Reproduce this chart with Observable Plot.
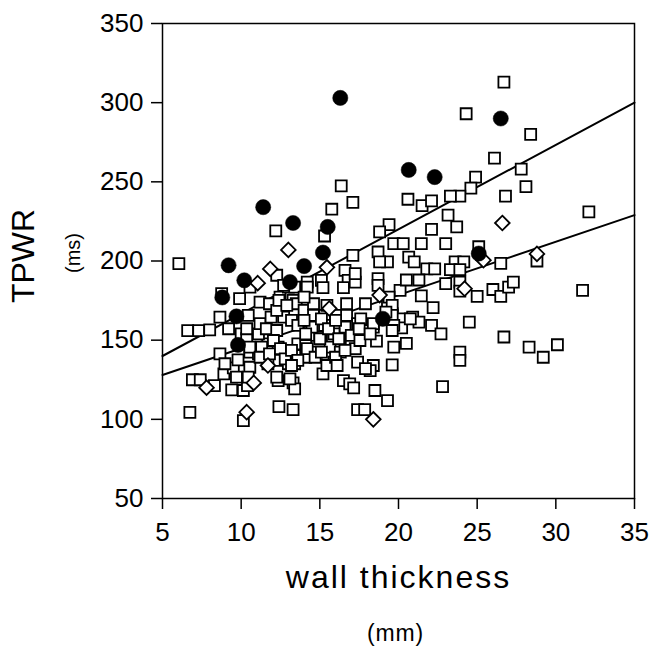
<!DOCTYPE html>
<html><head><meta charset="utf-8">
<script src="https://cdn.jsdelivr.net/npm/d3@7"></script>
<script src="https://cdn.jsdelivr.net/npm/@observablehq/plot@0.6"></script>
<style>body{margin:0;background:#fff}</style>
</head><body><div id="chart"></div>
<script>
// tick labels
const xTicks = [5, 10, 15, 20, 25, 30, 35];
const yTicks = [50, 100, 150, 200, 250, 300, 350];

// open squares: wall thickness (mm), TPWR (ms)
const squareX = [26.7,24.3,28.4,26.1,27.8,24.9,24.6,28.1,26.8,23.9,23.3,20.6,21.5,22.1,32.1,23.15,19.4,23.7,22.1,19.7,20.3,21.45,23.0,25.1,20.65,21.8,22.3,23.6,24.15,23.3,23.9,26.5,28.8,19.3,
20.1,20.5,21.3,21.45,23.0,23.9,23.9,25.0,26.0,26.5,27.0,27.3,31.7,22.2,19.3,19.6,20.2,20.9,21.3,22.1,22.7,20.2,20.5,24.5,26.7,23.9,23.9,28.3,29.2,30.1,19.6,22.8,19.3,
18.6,17.4,18.4,18.2,15.2,16.5,16.9,17.15,18.5,17.4,17.85,13.3,13.3,17.25,14.3,15.1,15.8,16.3,13.6,14.1,14.8,15.65,16.3,13.5,14.1,13.4,15.9,15.45,13.4,
6.74,10.14,12.4,6.9,7.4,8.3,9.4,10.14,10.4,8.9,8.65,9.5,9.7,10.55,10.55,10.45,9.8,11.1,11.7,12.35,12.26,11.7,13.0,13.1,12.35,10.0,10.35,11.1,6.6,7.3,8.0,8.97,
6.04,8.76,9.9,10.56,12.26,11.2,11.8,12.47,13.0,13.3,8.65,9.2,10.45,10.35,11.2,11.9,11.6,12.26,12.7,13.2,12.26,
18.7,17.1,18.8,21.0,16.6,16.8,17.25,18.7,18.7,15.1,14.2,13.4,15.2,16.5,19.4,19.6,13.5,14.0,14.6,14.6,15.3,16.1,16.7,16.7,17.4,17.7,19.6,20.75,19.7,13.6,14.5,15.3,16.0,16.6,18.4,14.1,15.9,17.0,
16.36,17.1,15.76,12.2,15.3,18.8,12.7,14.2,17.25,12.4,12.9,14.0,15.45,17.9,17.6,18.4,19.2,19.6,12.05,14.0,15.0,15.1,15.55,16.0,16.2,17.5,17.55,18.2,19.7,
10.55,11.3,11.2,11.8,12.5,12.8,13.2,13.6,14.2,14.7,15.1,16.0,16.6,16.1,13.2,12.26,17.9];
const squareY = [313,293,280,265,258,253,246,247,241,241,241,239,235,238,231,229,223,221.5,220,211,211,211,211,209,202.5,195,195,199.5,199.5,194.5,194.5,198.5,200,199.5,
181.5,188,188,178,185.7,186.7,181,177.7,182,177.7,183.5,186.7,181.5,170.5,174,166.7,163.5,164.6,161.4,159.3,154,157.8,148,161.4,152,142.4,137.2,145.6,139.2,147.1,134.4,120.7,111.8,
149.4,136.1,134,130.8,128.7,124.5,122.4,119.9,118.2,106.1,106.1,106.1,123,144.6,153,152,152,151,147.7,146.6,142.4,145.6,142.4,140.3,139.2,135.1,136.1,134,119.2,
104.4,99.2,108,125,125,121.3,118.6,118.2,121.3,128.7,141.4,132.5,126.6,142.4,132.9,126.6,137.6,141.4,147.7,145.6,137.2,135.1,135.1,125.6,124.5,154,150.9,154,156,156,156.5,135.1,
198.4,179.4,176.2,183.5,191,174,173,177.2,183.5,175.1,164.6,157.2,165.6,157.2,160.4,164.6,157.2,156.1,164.6,162.5,168.8,
205.7,203.6,199.4,199.4,194.1,187.8,186.7,188.9,184.6,187.8,186.7,183.5,183.2,183.2,177.2,172,173,168.8,173,165.6,165.6,165.6,173,165.6,160.4,156.1,165.6,163.5,159.3,159.3,158.2,159.3,159.3,158.2,158.2,154,154,153,
247.5,237,232.7,219,215.8,218.4,184.6,183.5,192,175.1,172,177.2,172,173,163.5,160.4,167.7,156.1,149.8,162.5,150.9,163.5,157.2,162.5,150.9,157.2,149.8,154,145.6,
145.6,145.6,139.2,141.4,144.6,138.2,143.5,137.2,144.6,139.2,142.4,139.2,143.5,134,134,126.6,132];

// open diamonds
const diamondX = [13.0,11.85,15.45,11.05,26.6,25.4,28.8,7.8,18.4,10.35,18.8,24.2,15.6,11.7,10.8];
const diamondY = [207,195,196,186,224,200.5,204.5,120,100,104.5,178.5,182.5,170,134,123];

// filled circles
const circleX = [16.3,26.5,20.65,22.3,11.4,13.3,15.5,15.2,9.2,14.0,10.2,13.1,8.8,9.7,9.8,19.0,25.1];
const circleY = [303,290,257.5,253,234,224,221.5,205.3,197.3,196.8,187.8,186.7,177,165,147,163.5,204.7];

// fitted lines (end points)
const fitX = [5, 35];
const fitUpper = [140, 300];
const fitLower = [128, 229];

const squares = squareX.map((x, i) => ({x, y: squareY[i]}));
const diamonds = diamondX.map((x, i) => ({x, y: diamondY[i]}));
const circles = circleX.map((x, i) => ({x, y: circleY[i]}));
const upper = fitX.map((x, i) => ({x, y: fitUpper[i]}));
const lower = fitX.map((x, i) => ({x, y: fitLower[i]}));

const font = "'Liberation Sans', Arial, Helvetica, sans-serif";

const chart = Plot.plot({
  width: 650,
  height: 651,
  marginLeft: 162,
  marginRight: 16,
  marginTop: 23,
  marginBottom: 153,
  style: {fontFamily: font, fontSize: "26px", color: "black", background: "white"},
  x: {domain: [5, 35]},
  y: {domain: [50, 350]},
  marks: [
    Plot.line(upper, {x: "x", y: "y", stroke: "black", strokeWidth: 2}),
    Plot.line(lower, {x: "x", y: "y", stroke: "black", strokeWidth: 2}),
    Plot.dot(squares, {x: "x", y: "y", symbol: "square", r: 6.2, fill: "white", stroke: "black", strokeWidth: 1.8}),
    Plot.dot(diamonds, {x: "x", y: "y", symbol: "diamond2", r: 6.6, fill: "white", stroke: "black", strokeWidth: 1.8}),
    Plot.dot(circles, {x: "x", y: "y", r: 7.6, fill: "black", stroke: "black", strokeWidth: 0.5}),
    Plot.frame({stroke: "black", strokeWidth: 1.5}),
    Plot.axisX({ticks: xTicks, tickSize: 11, tickPadding: 13, fontSize: 26, strokeWidth: 1.5, label: null}),
    Plot.axisY({ticks: yTicks, tickSize: 11, tickPadding: 8, fontSize: 26, strokeWidth: 1.5, label: null}),
    Plot.text(["TPWR"], {frameAnchor: "left", textAnchor: "middle", rotate: -90, dx: -139, dy: -5, fontSize: 32}),
    Plot.text(["(ms)"], {frameAnchor: "left", textAnchor: "middle", rotate: -90, dx: -89, dy: -8, fontSize: 20}),
    Plot.text(["wall thickness"], {frameAnchor: "bottom", dy: 89, fontSize: 32}),
    Plot.text(["(mm)"], {frameAnchor: "bottom", dx: -3, dy: 142, fontSize: 23})
  ]
});
d3.select(chart).selectAll("text").filter(function() { return this.textContent === "wall thickness"; })
  .attr("letter-spacing", "2px");
d3.select(chart).selectAll("text").filter(function() { return this.textContent === "(mm)"; })
  .attr("letter-spacing", "0.8px");
document.getElementById("chart").appendChild(chart);
</script>
</body></html>
